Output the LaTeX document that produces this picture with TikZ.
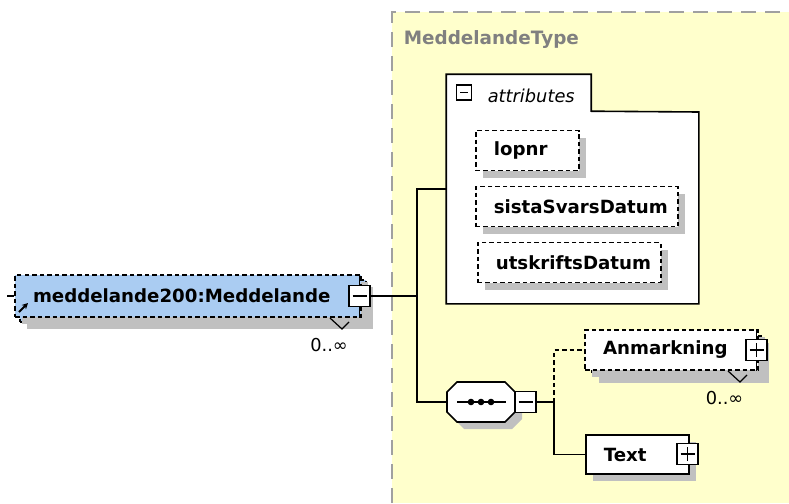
\documentclass[tikz,border=0pt]{standalone}
\usepackage{fontspec}
\setmainfont{DejaVu Sans}
\usetikzlibrary{shadows,arrows.meta}
\definecolor{typeyellow}{RGB}{255,255,204}
\definecolor{elemblue}{RGB}{170,204,242}
\definecolor{shadowgray}{RGB}{192,192,192}
\definecolor{typegray}{RGB}{128,128,128}
\newcommand{\elemfont}{\fontsize{18.2}{20}\selectfont\bfseries}
\newcommand{\plainfont}{\fontsize{17.8}{20}\selectfont}

\begin{document}
\begin{tikzpicture}[x=1pt, y=-1pt, line width=1.6pt,
		dashline/.style={dash pattern=on 4.5pt off 3pt},
		boxshadow/.style={drop shadow={shadow xshift=7pt, shadow yshift=-7pt, fill=shadowgray, opacity=1}},
		elem/.style={draw, fill=white, boxshadow, font=\elemfont, minimum height=40, inner xsep=18pt, inner ysep=0pt, align=left, text width=#1},
		optelem/.style={elem=#1, dashline},
		minusbox/.style={draw, fill=white, minimum size=#1, inner sep=0pt, path picture={\draw[line width=1.3pt] ([xshift=3.5pt]path picture bounding box.west) -- ([xshift=-3.5pt]path picture bounding box.east);}},
		minusbox/.default=21,
		plusbox/.style={draw, fill=white, minimum size=#1, inner sep=0pt, path picture={\draw[line width=1.3pt] ([xshift=3.5pt]path picture bounding box.west) -- ([xshift=-3.5pt]path picture bounding box.east); \draw[line width=1.3pt] ([yshift=-3.5pt]path picture bounding box.north) -- ([yshift=3.5pt]path picture bounding box.south);}},
		plusbox/.default=21,
		occurs/.style={font=\plainfont, inner sep=0pt}]
			\useasboundingbox (0, 0) rectangle (789, 503);
			\fill [typeyellow] (392, 12) rectangle (789, 503);
			\draw [typegray!75, line width=1.5pt, dash pattern=on 15pt off 9pt] (392, 503) -- (392, 12) -- (789, 12);
			\draw (403, 45) node [anchor=base west, inner sep=0pt, text=typegray, font=\fontsize{18.4}{20}\selectfont\bfseries] (typename) {MeddelandeType};

			\draw (572.5, 189) node [minimum width=251, minimum height=228, inner sep=0pt] (attrs) {};
			\draw [fill=white] (attrs.north west) -- ++(145, 0) -- ++(0, 37) -- (attrs.east |- 0, 112) -- (attrs.south east) -- (attrs.south west) -- cycle;
			\draw (464, 92.5) node [minusbox=15] (attrminus) {};
			\draw (487, 102) node [anchor=base west, inner sep=0pt, font=\plainfont\itshape] (attrlabel) {attributes};
			\draw (475, 150.5) node [optelem=67pt, anchor=west] (lopnr) {lopnr};
			\draw (475, 206.5) node [optelem=166pt, anchor=west] (svar) {sistaSvarsDatum};
			\draw (477, 262.5) node [optelem=147pt, anchor=west] (utskrift) {utskriftsDatum};

			\draw (193, 301) node [optelem=310pt, fill=elemblue, minimum height=42] (mainback) {};
			\draw (188, 296) node [optelem=310pt, fill=elemblue, minimum height=42, drop shadow={opacity=0}] (mainfront) {meddelande200:Meddelande};
			\draw (359.5, 296) node [minusbox] (mainminus) {};
			\draw [line width=1.2pt] (mainminus.north) -- (mainminus.north |- mainfront.north);
			\draw [line width=1.2pt] (mainminus.south) -- (mainminus.south |- mainfront.south);
			\draw [-{Stealth[length=6pt, width=6pt]}, line width=1.8pt] (19, 312) -- (28, 303);
			\draw [line width=1.2pt] (330, 318) -- (342, 329) -- (349, 322);
			\draw (329, 345) node [occurs] (mainocc) {0..∞};

			\fill [shadowgray] (464, 389) -- (512, 389) -- (522, 399) -- (522, 419) -- (512, 429) -- (464, 429) -- (454, 419) -- (454, 399) -- cycle;
			\draw [fill=white] (457, 382) -- (505, 382) -- (515, 392) -- (515, 412) -- (505, 422) -- (457, 422) -- (447, 412) -- (447, 392) -- cycle;
			\draw (481, 402) node [minimum width=68, minimum height=40, inner sep=0pt] (seq) {};
			\draw (457, 402) -- (506, 402);
			\foreach \dx in {-10, 0, 10}
				\fill ([xshift=\dx pt]seq.center) circle (3.3);
			\draw (525.5, 402) node [minusbox] (seqminus) {};
			\coordinate (j1) at (417, 296);
			\coordinate (j2) at (554, 402);

			\draw (677, 356) node [optelem=134pt, minimum height=40] (anmback) {};
			\draw (671.5, 350) node [optelem=137pt, drop shadow={opacity=0}] (anmfront) {Anmarkning};
			\draw (756.5, 350) node [plusbox] (anmplus) {};
			\draw [line width=1.2pt] (anmplus.north) -- (anmplus.north |- anmfront.north);
			\draw [line width=1.2pt] (anmplus.south) -- (anmplus.south |- anmfront.south);
			\draw [line width=1.2pt] (728, 371) -- (740, 382) -- (747, 375);
			\draw (724.5, 398) node [occurs] (anmocc) {0..∞};

			\draw (585, 454.5) node [elem=67pt, minimum height=39, anchor=west] (txt) {Text};
			\draw (687.5, 454) node [plusbox] (txtplus) {};

			\path (mainfront.west) edge (7, 296);
			\path (mainminus.east) edge (j1);
			\draw (j1) |- (attrs.west);
			\draw (j1) |- (seq.west);
			\path (seqminus.east) edge (j2);
			\draw [dashline] (j2) |- (anmfront.west);
			\draw (j2) |- (txt.west);
		\end{tikzpicture}
\end{document}
